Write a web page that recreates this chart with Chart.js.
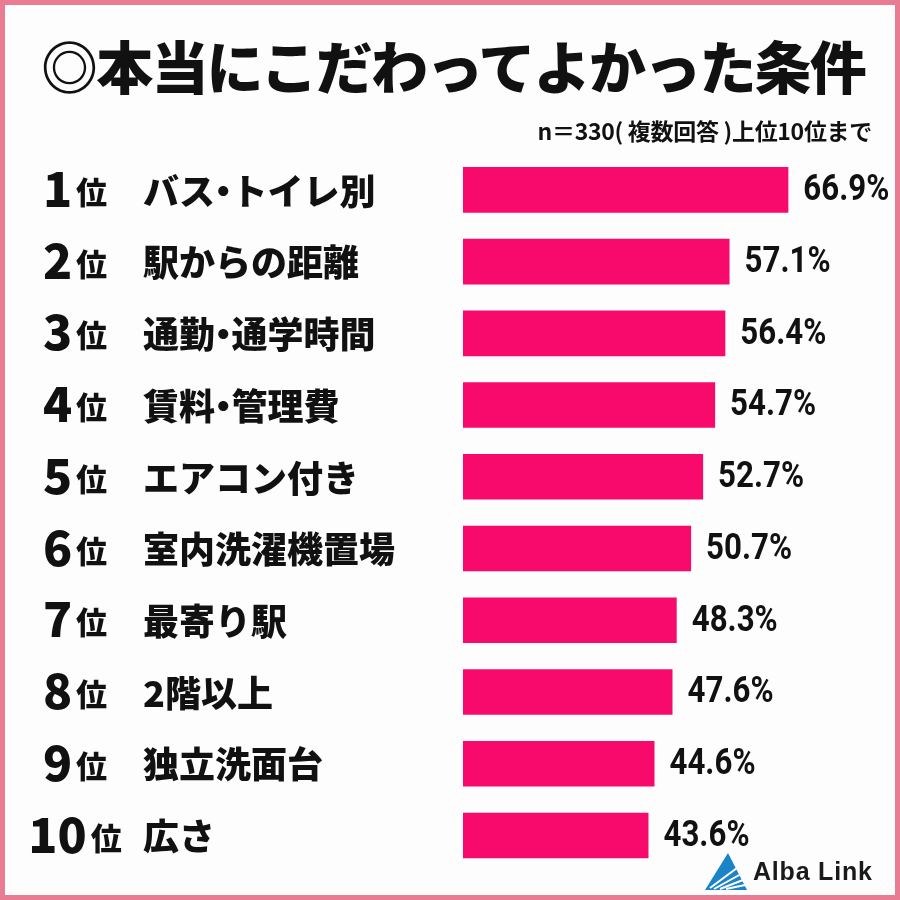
<!DOCTYPE html>
<html>
<head>
<meta charset="utf-8">
<script src="https://cdn.jsdelivr.net/npm/chart.js@4"></script>
<style>
  html, body { margin:0; padding:0; background:#fff; }
  #wrap { position:relative; width:900px; height:900px; background:#fdfdfd; overflow:hidden; }
  #c { position:absolute; left:0; top:0; }
  #frame { position:absolute; left:0; top:0; width:900px; height:900px; box-sizing:border-box; border:5px solid #e97b93; pointer-events:none; }
  #title { position:absolute; left:0; width:900px; top:24px; padding-left:6px; box-sizing:border-box; text-align:center; font-family:"Noto Sans CJK JP"; font-weight:900; font-size:57px; line-height:80px; letter-spacing:-1.8px; color:#111; white-space:nowrap; }
  #sub { position:absolute; right:28px; top:115px; font-family:"Noto Sans CJK JP"; font-weight:700; font-size:23px; line-height:30px; color:#111; white-space:nowrap; letter-spacing:-0.3px; }
  #logo { position:absolute; left:704px; top:852px; }
  #logotext { position:absolute; left:753px; top:855px; font-family:"Liberation Sans", Arial, sans-serif; font-weight:700; font-size:25px; line-height:32px; letter-spacing:0.8px; color:#1a1a1a; white-space:nowrap; }
</style>
</head>
<body>
<div id="wrap">
  <canvas id="c" width="900" height="900"></canvas>
  <div id="title">◎本当にこだわってよかった条件</div>
  <div id="sub">n＝330( 複数回答 )上位10位まで</div>
  <svg id="logo" width="44" height="40" viewBox="0 0 44 40">
    <polygon points="24,1 43,38 1,38" fill="#1b84c9"/>
    <path d="M6,36 L33,16 M10,37 L37,22 M16,37 L39,28 M22,37 L41,33" stroke="#fff" stroke-width="2" fill="none"/>
    <circle cx="33" cy="12" r="2" fill="#fff"/>
  </svg>
  <div id="logotext">Alba Link</div>
  <div id="frame"></div>
</div>
<script>
const ranks = ["1", "2", "3", "4", "5", "6", "7", "8", "9", "10"];
const categories = ["バス・トイレ別", "駅からの距離", "通勤・通学時間", "賃料・管理費", "エアコン付き", "室内洗濯機置場", "最寄り駅", "2階以上", "独立洗面台", "広さ"];
const values = [66.9, 57.1, 56.4, 54.7, 52.7, 50.7, 48.3, 47.6, 44.6, 43.6];

function drawName(ctx, text, x, y) {
  // draw glyph by glyph so the middle dot takes a half-width cell (like proportional kana)
  let cx = x;
  for (const ch of text) {
    const w = ctx.measureText(ch).width;
    if (ch === '・') {
      ctx.fillText(ch, cx - w * 0.27, y);
      cx += w * 0.46;
    } else {
      ctx.fillText(ch, cx, y);
      cx += w;
    }
  }
}

const labelPlugin = {
  id: 'labels',
  afterDatasetsDraw(chart) {
    const ctx = chart.ctx;
    const meta = chart.getDatasetMeta(0);
    ctx.save();
    ctx.fillStyle = '#111';
    const valFont = 'bold 37px Roboto, "Liberation Sans", sans-serif';
    ctx.font = valFont;
    const sx = 86 / ctx.measureText('66.9%').width;
    meta.data.forEach((bar, i) => {
      const y = bar.y;
      // value label (condensed)
      ctx.font = valFont;
      ctx.textAlign = 'left';
      ctx.textBaseline = 'middle';
      ctx.save();
      ctx.translate(bar.x + 15, y + 1);
      ctx.scale(sx, 1);
      ctx.fillText(values[i].toFixed(1) + '%', 0, 0);
      ctx.restore();
      // rank
      ctx.font = '900 48px "Noto Sans CJK JP"';
      const wNum = ctx.measureText(ranks[i]).width;
      ctx.font = '900 31px "Noto Sans CJK JP"';
      const wPos = ctx.measureText('位').width;
      const gap = 4;
      const total = wNum + gap + wPos;
      const x0 = 75 - total / 2;
      ctx.textBaseline = 'alphabetic';
      ctx.font = '900 48px "Noto Sans CJK JP"';
      ctx.fillText(ranks[i], x0, y + 17);
      ctx.font = '900 31px "Noto Sans CJK JP"';
      ctx.fillText('位', x0 + wNum + gap, y + 14);
      // category name
      ctx.font = '900 36px "Noto Sans CJK JP"';
      ctx.textBaseline = 'middle';
      drawName(ctx, categories[i], 143, y + 1);
    });
    ctx.restore();
  }
};

new Chart(document.getElementById('c'), {
  type: 'bar',
  data: {
    labels: categories,
    datasets: [{
      data: values,
      backgroundColor: '#f70a6b',
      borderWidth: 0,
      barPercentage: 0.635,
      categoryPercentage: 1
    }]
  },
  options: {
    indexAxis: 'y',
    responsive: false,
    animation: false,
    devicePixelRatio: 1,
    layout: { padding: { left: 463, right: 33, top: 154, bottom: 28.6 } },
    scales: {
      x: { display: false, min: 12.7, max: 80 },
      y: { display: false }
    },
    plugins: {
      legend: { display: false },
      tooltip: { enabled: false }
    }
  },
  plugins: [labelPlugin]
});
</script>
</body>
</html>
